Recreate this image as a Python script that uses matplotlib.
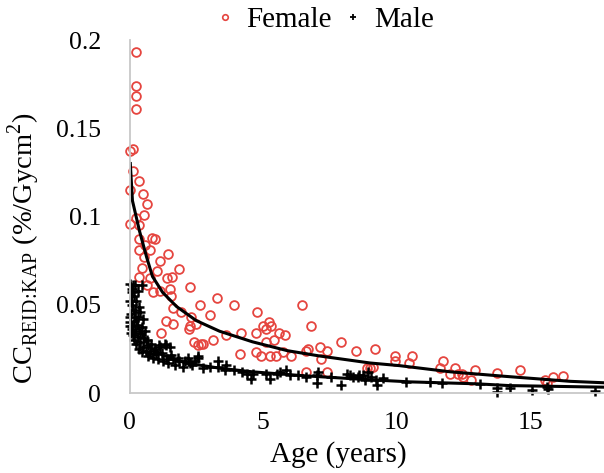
import matplotlib.pyplot as plt
from matplotlib.lines import Line2D

# female points (age, CC)
female_age = [0.00, 0.14, 0.25, 0.25, 0.25, 0.25, 0.14, 0.36, 0.00, 0.50,
              0.65, 0.53, 0.24, 0.00, 0.34, 0.34, 0.84, 0.96, 0.57, 0.34,
              0.78, 0.53, 1.44, 1.15, 0.47, 1.03, 1.84, 1.59, 1.40, 0.34,
              0.78, 0.64, 1.14, 1.51, 0.89, 1.57, 2.27, 3.28, 2.62, 3.90,
              4.78, 6.47, 3.02, 1.93, 1.62, 2.31, 1.37, 1.62, 2.25, 2.22,
              1.19, 5.00, 5.28, 6.80, 3.62, 4.18, 4.74, 5.59, 5.83, 2.43,
              2.68, 3.12, 5.12, 5.40, 7.90, 8.46, 6.68, 7.12, 7.37, 4.12,
              4.74, 4.93, 5.24, 5.49, 5.74, 6.05, 7.18, 6.62, 7.37, 8.87,
              2.50, 2.55, 2.75, 5.10, 5.20, 9.20, 9.95, 9.95, 10.55, 10.46,
              8.99, 9.11, 11.73, 11.61, 12.17, 11.99, 12.30, 12.42, 12.48, 12.77,
              12.92, 13.73, 14.60, 15.54, 15.60, 15.83, 16.23, 6.62]
female_cc = [0.137, 0.138, 0.193, 0.174, 0.168, 0.161, 0.126, 0.120, 0.115, 0.113,
             0.107, 0.101, 0.099, 0.096, 0.095, 0.087, 0.088, 0.087, 0.084, 0.081,
             0.081, 0.077, 0.079, 0.075, 0.071, 0.069, 0.070, 0.066, 0.065, 0.066,
             0.065, 0.061, 0.058, 0.059, 0.057, 0.055, 0.060, 0.054, 0.050, 0.050,
             0.046, 0.050, 0.044, 0.046, 0.048, 0.043, 0.041, 0.039, 0.038, 0.036,
             0.034, 0.038, 0.038, 0.038, 0.033, 0.034, 0.034, 0.034, 0.033, 0.029,
             0.028, 0.030, 0.029, 0.030, 0.029, 0.024, 0.025, 0.026, 0.024, 0.022,
             0.023, 0.021, 0.021, 0.021, 0.023, 0.021, 0.019, 0.012, 0.012, 0.014,
             0.039, 0.027, 0.028, 0.036, 0.040, 0.025, 0.021, 0.018, 0.021, 0.017,
             0.014, 0.015, 0.018, 0.014, 0.014, 0.011, 0.0106, 0.011, 0.009, 0.0074,
             0.013, 0.0115, 0.013, 0.0074, 0.0055, 0.009, 0.0096, 0.024]

# male points (age, CC)
male_age = [0.08, 0.20, 0.14, 0.46, 0.30, 0.15, 0.00, 0.08, 0.20, 0.05,
            0.00, 0.15, 0.33, 0.28, 0.46, 0.08, 0.58, 0.33, 0.64, 0.82,
            0.52, 0.95, 1.14, 1.32, 1.51, 0.77, 1.20, 1.57, 1.82, 2.20,
            2.57, 1.39, 2.07, 2.45, 1.12, 1.37, 2.56, 3.00, 3.62, 3.56,
            2.75, 4.62, 4.56, 5.12, 5.24, 5.87, 6.00, 7.05, 7.00, 8.12,
            8.60, 8.93, 1.87, 1.62, 2.25, 3.31, 7.00, 7.55, 7.93, 8.24,
            8.36, 8.55, 8.74, 8.80, 9.05, 9.21, 9.26, 9.49, 10.36, 11.24,
            11.70, 13.10, 13.73, 13.73, 14.23, 15.04, 15.60, 15.67, 17.40,
            0.03, 0.10, 0.05, 0.12, 0.22, 0.18, 0.25, 0.40, 0.35, 0.45,
            0.60, 0.70, 0.88, 1.00, 1.05, 1.25, 1.45, 1.70, 2.00, 2.35,
            0.10, 0.25, 0.35, 0.40, 0.50, 0.00, 0.40, 0.55, 0.70, 0.90,
            0.02, 3.90, 4.20, 4.40, 5.50, 6.30, 6.60, 3.30, 5.62]
male_cc = [0.059, 0.061, 0.061, 0.061, 0.058, 0.055, 0.052, 0.050, 0.047, 0.045,
           0.043, 0.041, 0.043, 0.0385, 0.0376, 0.036, 0.035, 0.032, 0.030, 0.028,
           0.026, 0.025, 0.026, 0.028, 0.026, 0.0225, 0.0225, 0.0215, 0.020, 0.020,
           0.020, 0.019, 0.018, 0.018, 0.027, 0.027, 0.021, 0.015, 0.016, 0.013,
           0.014, 0.011, 0.008, 0.011, 0.008, 0.013, 0.010, 0.012, 0.0055, 0.011,
           0.010, 0.012, 0.018, 0.019, 0.017, 0.015, 0.010, 0.009, 0.0045, 0.010,
           0.009, 0.009, 0.010, 0.0074, 0.009, 0.0074, 0.0045, 0.0083, 0.0064, 0.0064,
           0.0058, 0.0051, 0.0027, 0.0007, 0.0027, 0.0017, 0.0036, 0.0021, 0.0013,
           0.040, 0.038, 0.034, 0.033, 0.035, 0.030, 0.028, 0.029, 0.025, 0.023,
           0.024, 0.021, 0.020, 0.022, 0.019, 0.018, 0.017, 0.016, 0.015, 0.016,
           0.057, 0.052, 0.049, 0.046, 0.042, 0.038, 0.034, 0.031, 0.027, 0.024,
           0.062, 0.013, 0.012, 0.011, 0.011, 0.010, 0.009, 0.018, 0.012]

# fitted trend lines
female_fit_age = [0.03, 0.11, 0.37, 0.64, 0.86, 1.24, 1.76, 2.5, 3.37, 4.6,
                  5.9, 7.1, 9.0, 10.1, 12.0, 14.0, 16.5, 17.75]
female_fit_cc = [0.130, 0.109, 0.092, 0.077, 0.066, 0.057, 0.049, 0.041, 0.035, 0.029,
                 0.024, 0.021, 0.017, 0.0155, 0.012, 0.0095, 0.0066, 0.0058]
male_fit_age = [0.03, 0.11, 0.37, 0.75, 1.24, 2.1, 3.4, 4.6, 6.5, 9.0,
                10.5, 13.0, 14.2, 17.75]
male_fit_cc = [0.062, 0.049, 0.036, 0.026, 0.0215, 0.017, 0.014, 0.012, 0.0098, 0.0075,
               0.0063, 0.0052, 0.0042, 0.0033]

RED = "#e5453f"

plt.rcParams['font.family'] = ['Liberation Serif', 'DejaVu Serif']
plt.rcParams['mathtext.fontset'] = 'custom'
plt.rcParams['mathtext.rm'] = 'Liberation Serif'

fig = plt.figure(figsize=(6.04, 4.73), dpi=100)
ax = fig.add_axes([129.5 / 604, 1 - 393 / 473, 1 - 129.5 / 604, (393 - 40) / 473])

ax.plot(female_age, female_cc, linestyle='none', marker='o', markersize=6.3,
        markerfacecolor='none', markeredgecolor=RED, markeredgewidth=1.3, clip_on=False)
ax.plot(male_age, male_cc, linestyle='none', marker='+', markersize=7.5,
        color='black', markeredgewidth=1.8, clip_on=False)
ax.plot(female_fit_age, female_fit_cc, color='black', linewidth=2.2)
ax.plot(male_fit_age, male_fit_cc, color='black', linewidth=2.2)

ax.set_xlim(0, 17.75)
ax.set_ylim(0, 0.2)
ax.set_xticks([0, 5, 10, 15])
ax.set_yticks([0, 0.05, 0.1, 0.15, 0.2])
ax.set_yticklabels(['0', '0.05', '0.1', '0.15', '0.2'])
ax.tick_params(length=0, labelsize=18.5)
ax.tick_params(axis='y', pad=20.5)
ax.tick_params(axis='x', pad=14)
for side in ['top', 'right']:
    ax.spines[side].set_visible(False)
for side in ['left', 'bottom']:
    ax.spines[side].set_color('#c8c8c8')
    ax.spines[side].set_linewidth(1.3)

ax.set_xlabel('Age (years)', fontsize=21)
ax.xaxis.set_label_coords(0.44, -0.135)
ax.set_ylabel(r'CC$_{\mathregular{REID\!:\!KAP}}$ (%/Gycm$^{\mathregular{2}}$)', fontsize=20.5)
ax.yaxis.set_label_coords(-0.185, 0.41)

handles = [
    Line2D([], [], linestyle='none', marker='o', markersize=4, markerfacecolor='none',
           markeredgecolor=RED, markeredgewidth=1.2),
    Line2D([], [], linestyle='none', marker='+', markersize=5, color='black',
           markeredgewidth=1.3),
]
fig.legend(handles, ['Female', 'Male'], loc='center', bbox_to_anchor=(0.536, 1 - 20 / 473),
           ncol=2, frameon=False, fontsize=21, handlelength=0.8, handletextpad=0.35,
           columnspacing=0.3)

fig.savefig('out.png', dpi=100)
